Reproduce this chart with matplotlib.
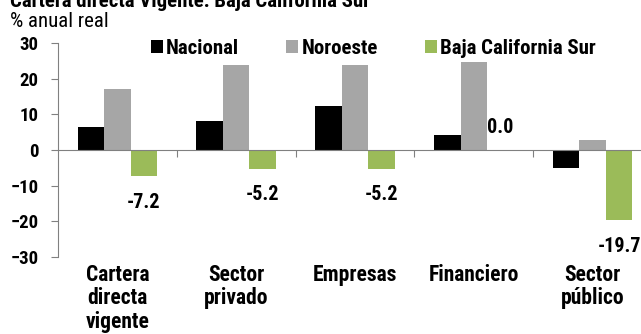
import matplotlib.pyplot as plt
import numpy as np

plt.rcParams['font.family'] = ['Roboto Condensed', 'DejaVu Sans']

categorias = ['Cartera\ndirecta\nvigente', 'Sector\nprivado', 'Empresas', 'Financiero', 'Sector\npúblico']
nacional = [6.5, 8.0, 12.4, 4.2, -5.0]
noroeste = [17.2, 23.8, 23.8, 24.8, 2.8]
bcs = [-7.2, -5.2, -5.2, 0.0, -19.7]

fig = plt.figure(figsize=(6.41, 3.34), dpi=100)
ax = fig.add_axes([58 / 641, 77 / 334, 594 / 641, 214 / 334])

x = np.arange(len(categorias))
w = 0.223
ax.bar(x - w, nacional, w, color='black', label='Nacional')
ax.bar(x, noroeste, w, color='#a6a6a6', label='Noroeste')
ax.bar(x + w, bcs, w, color='#9bbb59', label='Baja California Sur')

# etiquetas de Baja California Sur
for xi, v in zip(x, bcs):
    y = v - 7.4 if v < 0 else 6.2
    ax.text(xi + w, y, f'{v:.1f}', ha='center', va='center',
            fontsize=14.5, fontweight='bold')

ax.set_xlim(-0.5, 4.5)
ax.set_ylim(-30, 30)
ax.set_yticks(range(-30, 31, 10))
ax.tick_params(axis='y', length=5, color='#808080', pad=9, labelsize=13.5)
for lab in ax.get_yticklabels():
    lab.set_fontweight('bold')

ax.set_xticks(np.arange(0.5, 4, 1))
ax.set_xticklabels([])
ax.tick_params(axis='x', length=5, color='#808080', direction='out')

for s in ['top', 'right']:
    ax.spines[s].set_visible(False)
ax.spines['left'].set_color('#808080')
ax.spines['bottom'].set_color('#808080')
ax.spines['bottom'].set_position(('data', 0))

for xi, c in zip(x, categorias):
    ax.text(xi, -32.0, c, ha='center', va='top', fontsize=15.5,
            fontweight='bold', linespacing=1.08, clip_on=False)

ax.legend(loc='center left', bbox_to_anchor=(151 / 641, 1 - 48 / 334),
          bbox_transform=fig.transFigure, ncol=3, frameon=False,
          prop={'weight': 'bold', 'size': 15}, handlelength=0.58,
          handleheight=0.58, handletextpad=0.15, columnspacing=2.25,
          borderpad=0, borderaxespad=0)

fig.text(10 / 641, 1 - 7 / 334, 'Cartera directa Vigente: Baja California Sur',
         fontsize=15, fontweight='bold', va='baseline')
fig.text(10 / 641, 1 - 27 / 334, '% anual real', fontsize=15, va='baseline')

fig.savefig('out.png', dpi=100)
